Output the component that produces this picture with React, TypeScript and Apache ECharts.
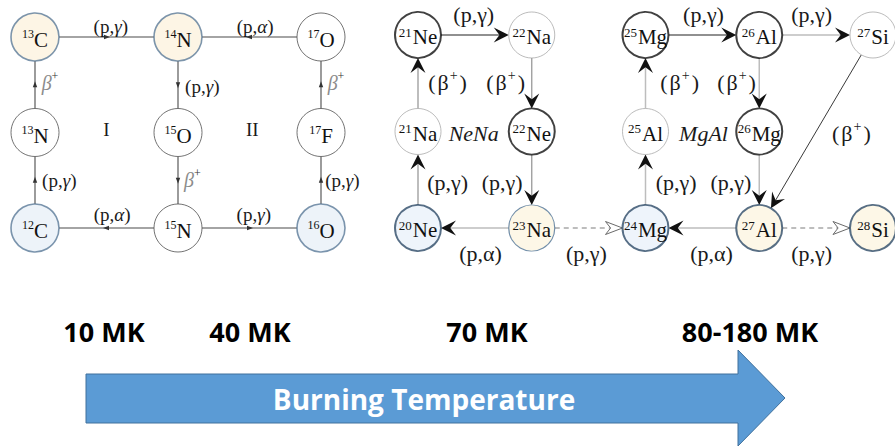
import React, { useEffect, useRef } from 'react';
import * as echarts from 'echarts';

// ---------- data ----------
const cnoNodes = [
  { id: '12C', mass: '12', el: 'C', col: 0, row: 2, kind: 'blue' },
  { id: '13N', mass: '13', el: 'N', col: 0, row: 1, kind: 'plain' },
  { id: '13C', mass: '13', el: 'C', col: 0, row: 0, kind: 'cream' },
  { id: '14N', mass: '14', el: 'N', col: 1, row: 0, kind: 'cream' },
  { id: '15O', mass: '15', el: 'O', col: 1, row: 1, kind: 'plain' },
  { id: '15N', mass: '15', el: 'N', col: 1, row: 2, kind: 'plain' },
  { id: '16O', mass: '16', el: 'O', col: 2, row: 2, kind: 'blue' },
  { id: '17F', mass: '17', el: 'F', col: 2, row: 1, kind: 'plain' },
  { id: '17O', mass: '17', el: 'O', col: 2, row: 0, kind: 'plain' },
];

const cnoEdges = [
  { from: '12C', to: '13N' },
  { from: '13N', to: '13C' },
  { from: '13C', to: '14N' },
  { from: '14N', to: '15O' },
  { from: '15O', to: '15N' },
  { from: '15N', to: '12C' },
  { from: '15N', to: '16O' },
  { from: '16O', to: '17F' },
  { from: '17F', to: '17O' },
  { from: '17O', to: '14N' },
];

const cnoLabels = [
  { text: '(p,{i|γ})', col: 0.53, row: -0.105 },
  { text: '(p,{i|α})', col: 1.54, row: -0.105 },
  { text: '{g|β}{p|+}', col: 0.105, row: 0.48 },
  { text: '(p,{i|γ})', col: 1.17, row: 0.52 },
  { text: '{g|β}{p|+}', col: 2.105, row: 0.48 },
  { text: 'I', col: 0.5, row: 0.97 },
  { text: 'II', col: 1.52, row: 0.97 },
  { text: '(p,{i|γ})', col: 0.17, row: 1.5 },
  { text: '{g|β}{p|+}', col: 1.1, row: 1.5 },
  { text: '(p,{i|γ})', col: 2.15, row: 1.5 },
  { text: '(p,{i|α})', col: 0.54, row: 1.86 },
  { text: '(p,{i|γ})', col: 1.53, row: 1.86 },
];

const nemgNodes = [
  { id: '21Ne', mass: '21', el: 'Ne', col: 0, row: 0, kind: 'bold' },
  { id: '22Na', mass: '22', el: 'Na', col: 1, row: 0, kind: 'thin' },
  { id: '21Na', mass: '21', el: 'Na', col: 0, row: 1, kind: 'thin' },
  { id: '22Ne', mass: '22', el: 'Ne', col: 1, row: 1, kind: 'bold' },
  { id: '20Ne', mass: '20', el: 'Ne', col: 0, row: 2, kind: 'blue' },
  { id: '23Na', mass: '23', el: 'Na', col: 1, row: 2, kind: 'cream' },
  { id: '25Mg', mass: '25', el: 'Mg', col: 2, row: 0, kind: 'bold' },
  { id: '26Al', mass: '26', el: 'Al', col: 3, row: 0, kind: 'bold' },
  { id: '27Si', mass: '27', el: 'Si', col: 4, row: 0, kind: 'thin' },
  { id: '25Al', mass: '25', el: 'Al', col: 2, row: 1, kind: 'thin' },
  { id: '26Mg', mass: '26', el: 'Mg', col: 3, row: 1, kind: 'bold' },
  { id: '24Mg', mass: '24', el: 'Mg', col: 2, row: 2, kind: 'blue' },
  { id: '27Al', mass: '27', el: 'Al', col: 3, row: 2, kind: 'creamBold' },
  { id: '28Si', mass: '28', el: 'Si', col: 4, row: 2, kind: 'creamBold' },
];

const nemgEdges = [
  { from: '21Na', to: '21Ne', kind: 'gray' },
  { from: '21Ne', to: '22Na', kind: 'black' },
  { from: '22Na', to: '22Ne', kind: 'gray' },
  { from: '22Ne', to: '23Na', kind: 'gray' },
  { from: '23Na', to: '20Ne', kind: 'light' },
  { from: '20Ne', to: '21Na', kind: 'gray' },
  { from: '23Na', to: '24Mg', kind: 'dashed' },
  { from: '24Mg', to: '25Al', kind: 'light' },
  { from: '25Al', to: '25Mg', kind: 'light' },
  { from: '25Mg', to: '26Al', kind: 'black' },
  { from: '26Al', to: '27Si', kind: 'light' },
  { from: '26Al', to: '26Mg', kind: 'light' },
  { from: '26Mg', to: '27Al', kind: 'light' },
  { from: '27Si', to: '27Al', kind: 'thin' },
  { from: '27Al', to: '24Mg', kind: 'light' },
  { from: '27Al', to: '28Si', kind: 'dashed' },
];

const nemgLabels = [
  { text: '(p,γ)', col: 0.49, row: -0.21 },
  { text: '({b|β}{p|+}{c|)}', col: 0.26, row: 0.49 },
  { text: '({b|β}{p|+}{c|)}', col: 0.77, row: 0.49 },
  { text: '{it|NeNa}', col: 0.49, row: 1.02 },
  { text: '(p,γ)', col: 0.26, row: 1.53 },
  { text: '(p,γ)', col: 0.74, row: 1.53 },
  { text: '(p,α)', col: 0.55, row: 2.26 },
  { text: '(p,γ)', col: 1.48, row: 2.26 },
  { text: '(p,γ)', col: 2.51, row: -0.21 },
  { text: '(p,γ)', col: 3.46, row: -0.21 },
  { text: '({b|β}{p|+}{c|)}', col: 2.3, row: 0.49 },
  { text: '({b|β}{p|+}{c|)}', col: 2.8, row: 0.49 },
  { text: '{it|MgAl}', col: 2.51, row: 1.02 },
  { text: '({b|β}{p|+}{c|)}', col: 3.81, row: 1.02 },
  { text: '(p,γ)', col: 2.27, row: 1.53 },
  { text: '(p,γ)', col: 2.75, row: 1.53 },
  { text: '(p,α)', col: 2.58, row: 2.26 },
  { text: '(p,γ)', col: 3.46, row: 2.26 },
];

const tempLabels = ['10 MK', '40 MK', '70 MK', '80-180 MK'];
const arrowTitle = 'Burning Temperature';

// ---------- styles / layout ----------
const SERIF = '"Liberation Serif", "Times New Roman", serif';
const SANS = '"Open Sans", sans-serif';
const CNO_R = 24;
const NEMG_R = 23;
const tempCenters = [104, 250, 487, 750];

const cnoNodeStyle: Record<string, any> = {
  plain: { color: '#ffffff', borderColor: '#505050', borderWidth: 1 },
  cream: { color: '#fcf3de', borderColor: '#5b7b99', borderWidth: 1.6 },
  blue: { color: '#e8f0f8', borderColor: '#5b7b99', borderWidth: 1.6 },
};
const nemgNodeStyle: Record<string, any> = {
  bold: { color: '#ffffff', borderColor: '#111111', borderWidth: 2 },
  thin: { color: '#ffffff', borderColor: '#a0a0a0', borderWidth: 0.9 },
  blue: { color: '#eaf1fa', borderColor: '#2e4b68', borderWidth: 2 },
  cream: { color: '#fdf5e1', borderColor: '#4f7396', borderWidth: 1.2 },
  creamBold: { color: '#fdf5e1', borderColor: '#2e4b68', borderWidth: 2 },
};
const edgeStyle: Record<string, any> = {
  black: { stroke: '#222222', lineWidth: 1.2 },
  gray: { stroke: '#9a9a9a', lineWidth: 1.3 },
  light: { stroke: '#bdbdbd', lineWidth: 1.5 },
  thin: { stroke: '#222222', lineWidth: 0.9 },
  dashed: { stroke: '#a8a8a8', lineWidth: 1.3, lineDash: [5, 4] },
};

// token styles: font, fill, dy (vertical shift), gap (extra space before)
const cnoNodeText: Record<string, any> = {
  s: { font: `normal 12px ${SERIF}`, fill: '#111', dy: -3 },
  e: { font: `normal 21px ${SERIF}`, fill: '#111', dy: 3 },
};
const nemgNodeText: Record<string, any> = {
  s: { font: `normal 13px ${SERIF}`, fill: '#111', dy: -3 },
  e: { font: `normal 21px ${SERIF}`, fill: '#111', dy: 2, gap: 1 },
};
const cnoLabelText: Record<string, any> = {
  base: { font: `normal 19px ${SERIF}`, fill: '#1a1a1a', dy: 0 },
  i: { font: `italic 19px ${SERIF}`, fill: '#1a1a1a', dy: 0 },
  g: { font: `italic 20px ${SERIF}`, fill: '#8c8c8c', dy: 0 },
  p: { font: `normal 12px ${SERIF}`, fill: '#333', dy: -7 },
};
const nemgLabelText: Record<string, any> = {
  base: { font: `normal 22px ${SERIF}`, fill: '#1a1a1a', dy: 0 },
  b: { font: `normal 22px ${SERIF}`, fill: '#1a1a1a', dy: 0, gap: 2 },
  c: { font: `normal 22px ${SERIF}`, fill: '#1a1a1a', dy: 0, gap: 2 },
  it: { font: `italic 22px ${SERIF}`, fill: '#1a1a1a', dy: 0 },
  p: { font: `normal 14px ${SERIF}`, fill: '#1a1a1a', dy: -7, gap: 1 },
};

let measureCtx: CanvasRenderingContext2D | null = null;
function measure(text: string, font: string) {
  if (!measureCtx) measureCtx = document.createElement('canvas').getContext('2d');
  measureCtx!.font = font;
  return measureCtx!.measureText(text).width;
}

function parseRuns(s: string) {
  const re = /\{(\w+)\|([^}]*)\}/g;
  const out: { k: string; t: string }[] = [];
  let last = 0;
  let m: RegExpExecArray | null;
  while ((m = re.exec(s))) {
    if (m.index > last) out.push({ k: 'base', t: s.slice(last, m.index) });
    out.push({ k: m[1], t: m[2] });
    last = re.lastIndex;
  }
  if (last < s.length) out.push({ k: 'base', t: s.slice(last) });
  return out;
}

function lookup(nodes: any[]) {
  const m: Record<string, any> = {};
  nodes.forEach((n) => (m[n.id] = n));
  return m;
}

function edgeGraphics(p1: number[], p2: number[], r: number, kind: string) {
  const dx = p2[0] - p1[0];
  const dy = p2[1] - p1[1];
  const len = Math.sqrt(dx * dx + dy * dy) || 1;
  const ux = dx / len;
  const uy = dy / len;
  const nx = -uy;
  const ny = ux;
  const sx = p1[0] + ux * r;
  const sy = p1[1] + uy * r;
  const ex = p2[0] - ux * r;
  const ey = p2[1] - uy * r;
  const children: any[] = [];
  if (kind === 'mid') {
    children.push({ type: 'line', shape: { x1: sx, y1: sy, x2: ex, y2: ey }, style: { stroke: '#4a4a4a', lineWidth: 1.1 } });
    const mx = (sx + ex) / 2;
    const my = (sy + ey) / 2;
    children.push({
      type: 'polygon',
      shape: { points: [[mx + ux * 3.5, my + uy * 3.5], [mx - ux * 2.5 + nx * 2.2, my - uy * 2.5 + ny * 2.2], [mx - ux * 2.5 - nx * 2.2, my - uy * 2.5 - ny * 2.2]] },
      style: { fill: '#333333' },
    });
    return children;
  }
  if (kind === 'dashed') {
    const L = 17;
    const W = 6.5;
    children.push({ type: 'line', shape: { x1: sx, y1: sy, x2: ex - ux * L * 0.7, y2: ey - uy * L * 0.7 }, style: { ...edgeStyle.dashed, fill: null } });
    children.push({
      type: 'polygon',
      shape: { points: [[ex, ey], [ex - ux * L + nx * W, ey - uy * L + ny * W], [ex - ux * L * 0.7, ey - uy * L * 0.7], [ex - ux * L - nx * W, ey - uy * L - ny * W]] },
      style: { fill: '#ffffff', stroke: '#6a6a6a', lineWidth: 1 },
    });
    return children;
  }
  const L = 15;
  const W = 7.5;
  children.push({ type: 'line', shape: { x1: sx, y1: sy, x2: ex - ux * L * 0.6, y2: ey - uy * L * 0.6 }, style: { ...edgeStyle[kind], fill: null } });
  children.push({
    type: 'polygon',
    shape: { points: [[ex, ey], [ex - ux * L + nx * W, ey - uy * L + ny * W], [ex - ux * L * 0.62, ey - uy * L * 0.62], [ex - ux * L - nx * W, ey - uy * L - ny * W]] },
    style: { fill: '#111111' },
  });
  return children;
}

function edgeSeries(nodes: any[], edges: any[], idx: number, r: number, defaultKind?: string) {
  const m = lookup(nodes);
  return {
    type: 'custom',
    xAxisIndex: idx,
    yAxisIndex: idx,
    z: 2,
    silent: true,
    clip: false,
    encode: { x: [0, 2], y: [1, 3] },
    data: edges.map((e) => [m[e.from].col, m[e.from].row, m[e.to].col, m[e.to].row]),
    renderItem: (params: any, api: any) => {
      const e = edges[params.dataIndex];
      const p1 = api.coord([api.value(0), api.value(1)]);
      const p2 = api.coord([api.value(2), api.value(3)]);
      return { type: 'group', children: edgeGraphics(p1, p2, r, defaultKind || e.kind) };
    },
  };
}

function nodeSeries(nodes: any[], idx: number, r: number, styles: Record<string, any>) {
  return {
    type: 'scatter',
    xAxisIndex: idx,
    yAxisIndex: idx,
    z: 3,
    silent: true,
    clip: false,
    symbol: 'circle',
    symbolSize: r * 2,
    emphasis: { disabled: true },
    data: nodes.map((n) => ({ value: [n.col, n.row], name: n.id, itemStyle: styles[n.kind] })),
  };
}

// text drawn through the grid's scales, token by token
function textSeries(items: { text: string; col: number; row: number }[], idx: number, styles: Record<string, any>, z: number) {
  return {
    type: 'custom',
    xAxisIndex: idx,
    yAxisIndex: idx,
    z,
    silent: true,
    clip: false,
    data: items.map((it) => [it.col, it.row]),
    renderItem: (params: any, api: any) => {
      const it = items[params.dataIndex];
      const c = api.coord([api.value(0), api.value(1)]);
      const runs = parseRuns(it.text);
      const widths = runs.map((r) => measure(r.t, styles[r.k].font) + (styles[r.k].gap || 0));
      const total = widths.reduce((a, b) => a + b, 0);
      let x = c[0] - total / 2;
      const children = runs.map((r, i) => {
        const st = styles[r.k];
        const el = {
          type: 'text',
          x: x + (st.gap || 0),
          y: c[1] + st.dy,
          style: { text: r.t, font: st.font, fill: st.fill, align: 'left', verticalAlign: 'middle' },
        };
        x += widths[i];
        return el;
      });
      return { type: 'group', children };
    },
  };
}

export default function App() {
  const ref = useRef<HTMLDivElement>(null);
  useEffect(() => {
    document.body.style.margin = '0';
    const chart = echarts.init(ref.current!, null, { renderer: 'svg' });
    const nodeText = (nodes: any[]) => nodes.map((n) => ({ text: `{s|${n.mass}}{e|${n.el}}`, col: n.col, row: n.row }));
    const graphic: any[] = [
      {
        type: 'polygon',
        shape: { points: [[86, 374], [738, 374], [738, 350], [785, 398], [738, 446], [738, 423], [86, 423]] },
        style: { fill: '#5b9bd5', stroke: '#41719c', lineWidth: 1 },
        z: 1,
      },
      {
        type: 'text',
        x: 424,
        y: 399,
        style: { text: arrowTitle, fill: '#ffffff', font: `bold 28px ${SANS}`, align: 'center', verticalAlign: 'middle' },
        z: 2,
      },
      ...tempLabels.map((t, i) => ({
        type: 'text',
        x: tempCenters[i],
        y: 331,
        style: { text: t, fill: '#000000', font: `bold 27px ${SANS}`, align: 'center', verticalAlign: 'middle' },
      })),
    ];
    chart.setOption({
      animation: false,
      backgroundColor: '#ffffff',
      grid: [
        { left: 35, top: 37, width: 286, height: 191 },
        { left: 418, top: 35, width: 455, height: 193 },
      ],
      xAxis: [
        { type: 'value', gridIndex: 0, min: 0, max: 2, show: false },
        { type: 'value', gridIndex: 1, min: 0, max: 4, show: false },
      ],
      yAxis: [
        { type: 'value', gridIndex: 0, min: 0, max: 2, inverse: true, show: false },
        { type: 'value', gridIndex: 1, min: 0, max: 2, inverse: true, show: false },
      ],
      series: [
        edgeSeries(cnoNodes, cnoEdges, 0, CNO_R, 'mid'),
        nodeSeries(cnoNodes, 0, CNO_R, cnoNodeStyle),
        textSeries(nodeText(cnoNodes), 0, cnoNodeText, 5),
        textSeries(cnoLabels, 0, cnoLabelText, 5),
        edgeSeries(nemgNodes, nemgEdges, 1, NEMG_R),
        nodeSeries(nemgNodes, 1, NEMG_R, nemgNodeStyle),
        textSeries(nodeText(nemgNodes), 1, nemgNodeText, 5),
        textSeries(nemgLabels, 1, nemgLabelText, 5),
      ],
      graphic,
    });
    return () => chart.dispose();
  }, []);
  return <div ref={ref} style={{ position: 'absolute', left: 0, top: 0, width: 895, height: 446 }} />;
}
